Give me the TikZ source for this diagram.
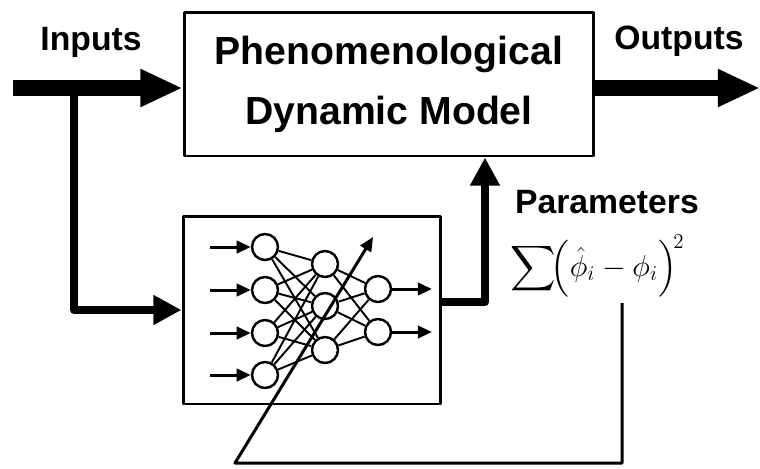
\documentclass[tikz,border=0pt]{standalone}
\usepackage{amsmath, amssymb}
\usepackage[no-math]{fontspec}
\setmainfont{Liberation Sans}
\usetikzlibrary{arrows.meta, positioning, calc}

\begin{document}
\begin{tikzpicture}[
      x=0.02cm, y=-0.02cm,
      line join=round,
      block/.style={rectangle, draw, line width=1.7pt, align=center, inner sep=0pt},
      tag/.style={font=\fontsize{19.2}{22}\selectfont\bfseries, anchor=base},
      neuron/.style={circle, draw, line width=1.4pt, minimum size=0.52cm, inner sep=0pt},
      bus/.style={line width=9.5pt, -{Triangle[length=24pt, width=20pt]}},
      feed/.style={line width=4.5pt, -{Triangle[length=16pt, width=16pt]}},
      sig/.style={line width=1.7pt, -{Triangle[length=8pt, width=7pt]}},
      link/.style={line width=1.1pt}
    ]
    \useasboundingbox (0,0) rectangle (760,468);

    \node[block, minimum width=8.2cm, minimum height=2.88cm,
          font=\fontsize{22.3}{34}\selectfont\bfseries] (model) at (389,84)
          {Phenomenological\\Dynamic Model};
    \node[block, minimum width=5.16cm, minimum height=3.76cm] (nn) at (312,310) {};

    \node[tag] (inp)  at (91,50)   {Inputs};
    \node[tag] (outp) at (679,49)  {Outputs};
    \node[tag] (par)  at (607,213) {Parameters};
    \node[anchor=west, inner sep=0pt] (cost) at (510,266)
      {\fontsize{18}{22}\selectfont $\displaystyle\sum\!\Bigl(\hat{\phi}_i-\phi_i\Bigr)^{\!2}$};

    \foreach \n/\y in {1/247, 2/290, 3/333, 4/375} {
      \node[neuron] (i\n) at (265,\y) {};
      \coordinate (x\n) at (210,\y);
      \draw[sig] (x\n) -- (i\n);
    }
    \foreach \n/\y in {1/264, 2/306, 3/350}
      \node[neuron] (h\n) at (325,\y) {};
    \foreach \n/\y in {1/289, 2/332} {
      \node[neuron] (o\n) at (378,\y) {};
      \coordinate (y\n) at (432,\y);
      \draw[sig] (o\n) -- (y\n);
    }
    \foreach \a in {1,...,4}
      \foreach \b in {1,2,3}
        \draw[link] (i\a) -- (h\b);
    \foreach \a in {1,2,3}
      \foreach \b in {1,2}
        \draw[link] (h\a) -- (o\b);

    \coordinate (src) at (13,88);
    \coordinate (snk) at (760,88);
    \coordinate (split) at (74,88);
    \draw[bus] (src) -- (src -| model.west);
    \draw[bus] (model.east |- snk) -- (snk);
    \draw[feed] (split) |- (nn.west);
    \draw[feed] ($(nn.east)+(0,-8)$) -| ($(model.south)+(96,0)$);

    \coordinate (fbtop) at (622,303);
    \coordinate (fbbot) at (235,463);
    \coordinate (tune)  at (373,237);
    \draw[sig] (fbtop) |- (fbbot) -- (tune);
  \end{tikzpicture}
\end{document}
